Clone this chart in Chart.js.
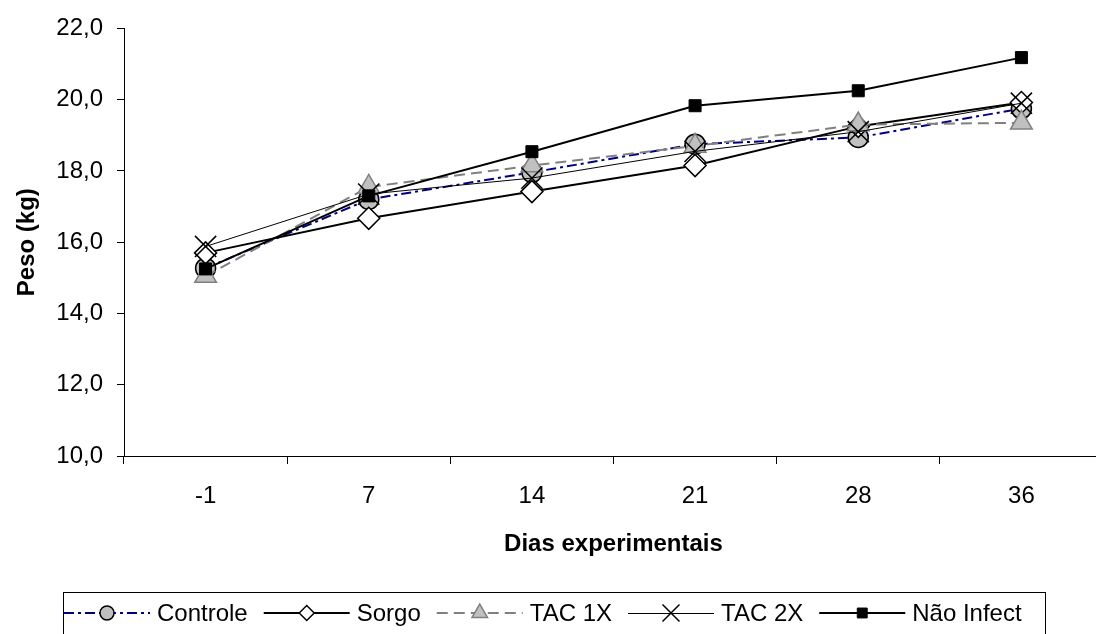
<!DOCTYPE html>
<html>
<head>
<meta charset="utf-8">
<script src="https://cdn.jsdelivr.net/npm/chart.js@4/dist/chart.umd.min.js"></script>
<style>
  body { margin: 0; background: #fff; overflow: hidden; }
  canvas { display: block; }
</style>
</head>
<body>
<canvas id="pesoChart" width="1104" height="634"></canvas>
<script>
// dias experimentais (categorias do eixo x)
const dias = ['-1', '7', '14', '21', '28', '36'];

// peso medio (kg) por tratamento
const controle   = [15.27, 17.20, 17.96, 18.75, 18.94, 19.75];
const sorgo      = [15.70, 16.67, 17.42, 18.15, 19.25, 19.92];
const tac1x      = [15.05, 17.55, 18.15, 18.70, 19.30, 19.35];
const tac2x      = [15.88, 17.35, 17.80, 18.55, 19.10, 19.90];
const naoInfect  = [15.25, 17.30, 18.54, 19.83, 20.25, 21.18];

const yMin = 10, yMax = 22, yStep = 2;

Chart.defaults.font.family = '"Liberation Sans", Arial, sans-serif';
Chart.defaults.color = '#000';

// legenda em caixa, com linha + marcador como no Excel
const boxLegend = {
    id: 'boxLegend',
    afterDraw(chart) {
        const ctx = chart.ctx;
        ctx.save();
        ctx.strokeStyle = '#000';
        ctx.lineWidth = 1;
        ctx.strokeRect(63.5, 592.5, 982, 60);
        ctx.font = '24px "Liberation Sans", Arial, sans-serif';
        ctx.textBaseline = 'middle';
        let x = 64;
        chart.data.datasets.forEach(ds => {
            const y = ds.borderWidth === 1 ? 613.5 : 613;
            ctx.save();
            ctx.strokeStyle = ds.borderColor;
            ctx.lineWidth = ds.borderWidth;
            ctx.setLineDash(ds.borderDash || []);
            ctx.beginPath();
            ctx.moveTo(x, y);
            ctx.lineTo(x + 86, y);
            ctx.stroke();
            ctx.setLineDash([]);
            ctx.fillStyle = ds.pointBackgroundColor;
            ctx.strokeStyle = ds.pointBorderColor;
            ctx.lineWidth = ds.pointBorderWidth;
            Chart.helpers.drawPoint(ctx, {
                pointStyle: ds.pointStyle,
                radius: ds.legendRadius,
                rotation: 0,
                borderWidth: ds.pointBorderWidth
            }, x + 43, 613);
            ctx.restore();
            ctx.fillStyle = '#000';
            ctx.fillText(ds.label, x + 93, 614);
            x += 93 + ctx.measureText(ds.label).width + 16;
        });
        ctx.restore();
    }
};

const ctx = document.getElementById('pesoChart').getContext('2d');
new Chart(ctx, {
    type: 'line',
    data: {
        labels: dias,
        datasets: [
            {
                label: 'Controle',
                data: controle,
                borderColor: '#000080',
                borderWidth: 2,
                borderDash: [10, 4, 3, 4],
                pointStyle: 'circle',
                pointRadius: 10,
                legendRadius: 7,
                pointBackgroundColor: '#c0c0c0',
                pointBorderColor: '#000',
                pointBorderWidth: 1.5,
                order: 5
            },
            {
                label: 'Sorgo',
                data: sorgo,
                borderColor: '#000',
                borderWidth: 2,
                pointStyle: 'rectRot',
                pointRadius: 11,
                legendRadius: 7.5,
                pointBackgroundColor: '#fff',
                pointBorderColor: '#000',
                pointBorderWidth: 1.5,
                order: 4
            },
            {
                label: 'TAC 1X',
                data: tac1x,
                borderColor: '#808080',
                borderWidth: 2,
                borderDash: [11, 6],
                pointStyle: 'triangle',
                pointRadius: 12.5,
                legendRadius: 9,
                pointBackgroundColor: '#c0c0c0',
                pointBorderColor: '#808080',
                pointBorderWidth: 1.5,
                order: 3
            },
            {
                label: 'TAC 2X',
                data: tac2x,
                borderColor: '#000',
                borderWidth: 1,
                pointStyle: 'crossRot',
                pointRadius: 15,
                legendRadius: 12,
                pointBackgroundColor: '#000',
                pointBorderColor: '#000',
                pointBorderWidth: 1.5,
                order: 2
            },
            {
                label: 'Não Infect',
                data: naoInfect,
                borderColor: '#000',
                borderWidth: 2,
                pointStyle: 'rect',
                pointRadius: 8.5,
                legendRadius: 7,
                pointBackgroundColor: '#000',
                pointBorderColor: '#000',
                pointBorderWidth: 1,
                order: 1
            }
        ]
    },
    options: {
        responsive: false,
        devicePixelRatio: 1,
        animation: false,
        layout: { autoPadding: false, padding: { left: 0, top: 28, right: 1, bottom: 74 } },
        elements: { line: { tension: 0, fill: false } },
        plugins: {
            legend: { display: false },
            tooltip: { enabled: false }
        },
        scales: {
            x: {
                offset: true,
                grid: { offset: true, drawOnChartArea: false, tickLength: 8, color: '#000' },
                border: { color: '#000', width: 1 },
                ticks: { font: { size: 24 }, padding: 18, maxRotation: 0 },
                title: {
                    display: true,
                    text: 'Dias experimentais',
                    font: { size: 24, weight: 'bold' },
                    padding: { top: 0, bottom: 1 }
                },
                afterFit(scale) {
                    scale.height = 104;
                    scale.paddingLeft = 0;
                    scale.paddingRight = 0;
                }
            },
            y: {
                min: yMin,
                max: yMax,
                grid: { drawOnChartArea: false, tickLength: 7, color: '#000' },
                border: { color: '#000', width: 1 },
                ticks: {
                    stepSize: yStep,
                    font: { size: 24 },
                    padding: 14,
                    callback: v => v.toFixed(1).replace('.', ',')
                },
                title: {
                    display: true,
                    text: 'Peso (kg)',
                    font: { size: 24, weight: 'bold' },
                    padding: { top: 13, bottom: 0 }
                },
                afterFit(scale) { scale.width = 124; }
            }
        }
    },
    plugins: [boxLegend]
});
</script>
</body>
</html>
